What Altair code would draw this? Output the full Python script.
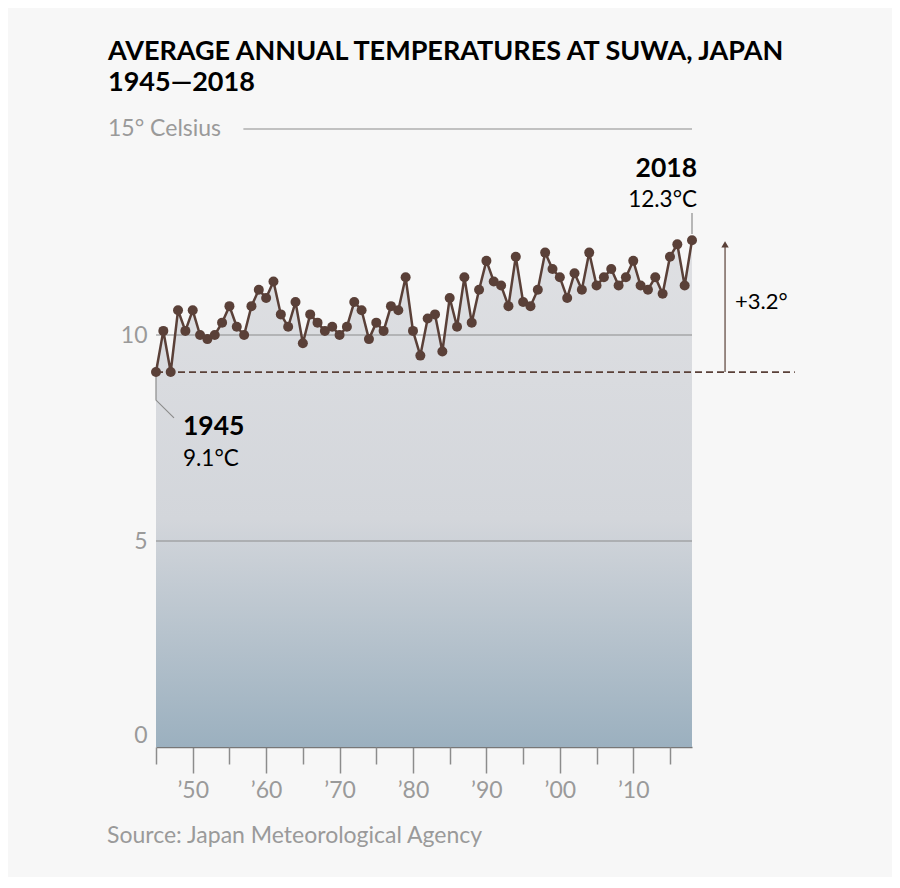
import altair as alt
import pandas as pd

years = list(range(1945, 2019))
temps = [9.1, 10.1, 9.1, 10.6, 10.1, 10.6, 10.0, 9.9, 10.0, 10.3, 10.7, 10.2, 10.0, 10.7, 11.1, 10.9, 11.3, 10.5, 10.2, 10.8, 9.8, 10.5, 10.3, 10.1, 10.2,
         10.0, 10.2, 10.8, 10.6, 9.9, 10.3, 10.1, 10.7, 10.6, 11.4, 10.1, 9.5, 10.4, 10.5, 9.6, 10.9, 10.2, 11.4, 10.3, 11.1, 11.8, 11.3, 11.2, 10.7, 11.9,
         10.8, 10.7, 11.1, 12.0, 11.6, 11.4, 10.9, 11.5, 11.1, 12.0, 11.2, 11.4, 11.6, 11.2, 11.4, 11.8, 11.2, 11.1, 11.4, 11.0, 11.9, 12.2, 11.2, 12.3]

decade_ticks = [1950, 1960, 1970, 1980, 1990, 2000, 2010]
minor_ticks = [1945, 1955, 1965, 1975, 1985, 1995, 2005, 2015]
y_labels = [0, 5, 10]
grid_values = [5, 10, 15]
grid_start = [1945, 1945, 1956.9]
grid_end = [2018, 2018, 2018]

base_year, base_temp = 1945, 9.1
last_year, last_temp = 2018, 12.3
dash_end = 2032
arrow_x = 2022.5
arrow_top = 12.2
change_label = "+3.2°"
change_label_y = 10.8
leader_1945_x = [1945, 1945, 1947.45]
leader_1945_y = [9.1, 8.42, 7.99]
leader_1945_order = [0, 1, 2]
leader_2018_y = [12.45, 12.96]

BROWN = "#5a4038"
GRAY_TXT = "#9a9a9a"
GRID = "#8c8c8c"
FONT = "Lato"

df = pd.DataFrame({"year": years, "temp": temps})

xscale = alt.Scale(domain=[1945, 2018], nice=False, zero=False)
yscale = alt.Scale(domain=[0, 15], nice=False)

label_expr = "'\u2019' + substring(toString(datum.value), 2, 4)"

x_axis_major = alt.Axis(
    values=decade_ticks, labelExpr=label_expr, grid=False, title=None, orient="bottom",
    tickSize=26, tickColor=GRID, tickWidth=1.5, domainColor="#777777", domainWidth=1.5,
    labelColor=GRAY_TXT, labelFontSize=23, labelFont=FONT, labelPadding=6,
    labelFlush=False, labelOverlap=False,
)
x_axis_minor = alt.Axis(
    values=minor_ticks, labels=False, grid=False, title=None, orient="bottom", domain=False,
    tickSize=17, tickColor=GRID, tickWidth=1.5,
)
y_axis = alt.Axis(
    values=y_labels, grid=False, ticks=False, domain=False, title=None,
    labelColor=GRAY_TXT, labelFontSize=23, labelFont=FONT, labelPadding=9,
    labelBaseline={"condition": {"test": "datum.value == 0", "value": "bottom"}, "value": "middle"},
)

gradient = alt.Gradient(
    gradient="linear",
    stops=[
        alt.GradientStop(color="#dfe0e3", offset=0),
        alt.GradientStop(color="#d3d6db", offset=0.55),
        alt.GradientStop(color="#9bb0bf", offset=1),
    ],
    x1=1, x2=1, y1=0, y2=1,
)


def X(field, axis=None):
    return alt.X(field, type="quantitative", scale=xscale, axis=axis)


def Y(field):
    return alt.Y(field, type="quantitative", scale=yscale)


area = alt.Chart(df).mark_area(color=gradient).encode(
    x=X("year", x_axis_major),
    y=alt.Y("temp:Q", scale=yscale, axis=y_axis),
)

grid_df = pd.DataFrame({"v": grid_values, "x0": grid_start, "x1": grid_end})
grid = alt.Chart(grid_df).mark_rule(color=GRID, strokeWidth=1.2).encode(
    x=X("x0", x_axis_minor), x2="x1:Q", y=Y("v")
)

dash_df = pd.DataFrame({"x0": [base_year], "x1": [dash_end], "v": [base_temp]})
dash = alt.Chart(dash_df).mark_rule(color=BROWN, strokeWidth=1.6, strokeDash=[7, 4]).encode(
    x=X("x0"), x2="x1:Q", y=Y("v")
)

line = alt.Chart(df).mark_line(color=BROWN, strokeWidth=2.5).encode(x=X("year"), y=Y("temp"))
points = alt.Chart(df).mark_circle(color=BROWN, size=100, opacity=1).encode(x=X("year"), y=Y("temp"))

lead1_df = pd.DataFrame({"x": leader_1945_x, "y": leader_1945_y, "o": leader_1945_order})
lead1 = alt.Chart(lead1_df).mark_line(color=GRID, strokeWidth=1.2).encode(
    x=X("x"), y=Y("y"), order="o:Q"
)
lead2_df = pd.DataFrame({"x": [last_year], "y0": [leader_2018_y[0]], "y1": [leader_2018_y[1]]})
lead2 = alt.Chart(lead2_df).mark_rule(color=GRID, strokeWidth=1.2).encode(
    x=X("x"), y=Y("y0"), y2="y1:Q"
)

arrow_df = pd.DataFrame({"x": [arrow_x], "y0": [base_temp], "y1": [arrow_top]})
arrow_line = alt.Chart(arrow_df).mark_rule(color=BROWN, strokeWidth=1.2).encode(
    x=X("x"), y=Y("y0"), y2="y1:Q"
)
arrow_head = alt.Chart(arrow_df).mark_point(shape="triangle-up", filled=True, color=BROWN, size=55, opacity=1).encode(
    x=X("x"), y=Y("y1")
)
change_df = pd.DataFrame({"x": [arrow_x], "y": [change_label_y], "t": [change_label]})
change_txt = alt.Chart(change_df).mark_text(align="left", baseline="middle", dx=10, fontSize=22, font=FONT, color="black").encode(
    x=X("x"), y=Y("y"), text="t:N"
)

ann_df = pd.DataFrame({"x": [base_year], "y": [base_temp], "a": [str(base_year)], "b": [f"{base_temp}°C"]})
ann1a = alt.Chart(ann_df).mark_text(align="left", baseline="middle", dx=27, dy=55, fontSize=26.5, fontWeight="bold", font=FONT, color="black").encode(
    x=X("x"), y=Y("y"), text="a:N"
)
ann1b = alt.Chart(ann_df).mark_text(align="left", baseline="middle", dx=27, dy=87, fontSize=22.5, font=FONT, color="black").encode(
    x=X("x"), y=Y("y"), text="b:N"
)
ann2_df = pd.DataFrame({"x": [last_year], "y": [last_temp], "a": [str(last_year)], "b": [f"{last_temp}°C"]})
ann2a = alt.Chart(ann2_df).mark_text(align="right", baseline="middle", dx=5, dy=-71, fontSize=26.5, fontWeight="bold", font=FONT, color="black").encode(
    x=X("x"), y=Y("y"), text="a:N"
)
ann2b = alt.Chart(ann2_df).mark_text(align="right", baseline="middle", dx=5, dy=-40, fontSize=22.5, font=FONT, color="black").encode(
    x=X("x"), y=Y("y"), text="b:N"
)

top_df = pd.DataFrame({"x": [1945], "y": [15], "t": ["15° Celsius"]})
top_lbl = alt.Chart(top_df).mark_text(align="left", baseline="middle", dx=-48, fontSize=23, font=FONT, color=GRAY_TXT).encode(
    x=X("x"), y=Y("y"), text="t:N"
)
src_df = pd.DataFrame({"x": [1945], "y": [0], "t": ["Source: Japan Meteorological Agency"]})
src = alt.Chart(src_df).mark_text(align="left", baseline="middle", dx=-49, dy=89, fontSize=23, font=FONT, color=GRAY_TXT).encode(
    x=X("x"), y=Y("y"), text="t:N"
)

chart = alt.layer(
    area, grid, dash, lead1, lead2, line, points, arrow_line, arrow_head, change_txt,
    ann1a, ann1b, ann2a, ann2b, top_lbl, src,
).resolve_axis(x="independent").properties(
    width=536, height=618,
    title=alt.Title(
        ["AVERAGE ANNUAL TEMPERATURES AT SUWA, JAPAN", "1945\u20142018"],
        anchor="start", frame="group", dx=-48, fontSize=27, font=FONT, fontWeight="bold",
        color="black", lineHeight=31, offset=21,
    ),
    autosize=alt.AutoSizeParams(type="none"),
    padding={"left": 148, "top": 121, "right": 200, "bottom": 130},
    background="#f7f7f7",
).configure_view(stroke=None)

chart.save("out.html", embed_options={"renderer": "svg", "actions": False})
